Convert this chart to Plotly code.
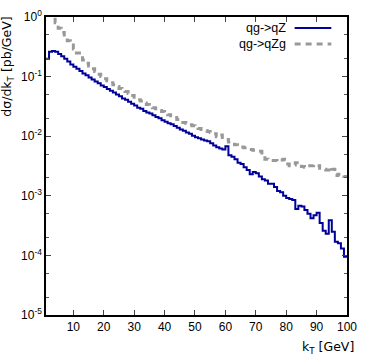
import numpy as np
import plotly.graph_objects as go

# bin left edges in kT (GeV), bin width 1
kt_edges = np.arange(1, 101)

# qg->qZ (solid blue histogram)
qz = [0.20, 0.26, 0.27, 0.26, 0.24, 0.22, 0.20, 0.18, 0.16, 0.147,
      0.135, 0.124, 0.113, 0.105, 0.097, 0.089, 0.083, 0.077, 0.071, 0.067,
      0.062, 0.058, 0.054, 0.050, 0.047, 0.043, 0.041, 0.038, 0.035, 0.0326,
      0.030, 0.029, 0.0265, 0.025, 0.024, 0.0225, 0.021, 0.020, 0.0185, 0.0175,
      0.0165, 0.0158, 0.0148, 0.0138, 0.013, 0.0123, 0.0115, 0.011, 0.0102, 0.0096,
      0.0092, 0.0088, 0.0085, 0.0082, 0.0076, 0.0070, 0.0065, 0.0062, 0.0060, 0.0068,
      0.0048, 0.0045, 0.0041, 0.0036, 0.0034, 0.0030, 0.0027, 0.0023, 0.0025, 0.0024,
      0.0021, 0.0019, 0.0018, 0.0016, 0.0016, 0.0014, 0.0012, 0.00115, 0.0010, 0.00092,
      0.00088, 0.00085, 0.00060, 0.00068, 0.00066, 0.00058, 0.00050, 0.00042, 0.00047, 0.00052,
      0.00035, 0.00026, 0.00023, 0.00039, 0.00025, 0.00017, 0.00016, 0.00013, 0.000095]

# qg->qZg (dashed grey histogram)
qzg = [1.6, 1.2, 1.0, 0.8, 0.65, 0.55, 0.46, 0.40, 0.34, 0.29,
       0.25, 0.22, 0.19, 0.168, 0.15, 0.135, 0.122, 0.11, 0.10, 0.092,
       0.085, 0.079, 0.073, 0.068, 0.063, 0.059, 0.056, 0.052, 0.048, 0.045,
       0.041, 0.039, 0.036, 0.034, 0.032, 0.030, 0.029, 0.027, 0.026, 0.024,
       0.023, 0.022, 0.0205, 0.019, 0.0185, 0.017, 0.0165, 0.0155, 0.015, 0.014,
       0.0135, 0.013, 0.0125, 0.012, 0.0115, 0.011, 0.0098, 0.0105, 0.0095, 0.0088,
       0.0080, 0.0078, 0.0072, 0.0068, 0.0066, 0.0064, 0.0062, 0.0060, 0.0058, 0.0057,
       0.0056, 0.0046, 0.0041, 0.0040, 0.0039, 0.0039, 0.0038, 0.0040, 0.0041, 0.0034,
       0.0032, 0.0033, 0.0036, 0.0036, 0.0031, 0.0030, 0.0032, 0.0032, 0.0033, 0.0032,
       0.0029, 0.0028, 0.0027, 0.0030, 0.0028, 0.0022, 0.0023, 0.0022, 0.0021]

x_ticks = [10, 20, 30, 40, 50, 60, 70, 80, 90, 100]
y_ticks = [1e-5, 1e-4, 1e-3, 1e-2, 1e-1, 1]
y_labels = ["10<sup>-5</sup>", "10<sup>-4</sup>", "10<sup>-3</sup>",
            "10<sup>-2</sup>", "10<sup>-1</sup>", "10<sup>0</sup>"]

BLUE = "#00009a"
GREY = "#999999"
FONT = "Liberation Sans, Arial, sans-serif"
WIDE = "DejaVu Sans, sans-serif"

fig = go.Figure()
fig.add_trace(go.Scatter(x=kt_edges, y=qz + [qz[-1]], mode="lines",
                         line=dict(color=BLUE, width=2, shape="hv"),
                         showlegend=False))
fig.add_trace(go.Scatter(x=kt_edges, y=qzg + [qzg[-1]], mode="lines",
                         line=dict(color=GREY, width=3, shape="hv", dash="6px,5px"),
                         showlegend=False))

# gnuplot style key: text right-aligned, sample line on the right
legend_rows = [("qg->qZ", BLUE, "solid", 2, 0.963), ("qg->qZg", GREY, "6px,5px", 3, 0.909)]
for label, col, dash, w, yy in legend_rows:
    fig.add_annotation(x=0.804, y=yy, xref="paper", yref="paper", text=label,
                       showarrow=False, xanchor="right", yanchor="middle",
                       font=dict(size=12.5, color="black", family=FONT))
    fig.add_shape(type="line", xref="paper", yref="paper", x0=0.826, x1=0.948,
                  y0=yy, y1=yy, line=dict(color=col, width=w, dash=dash))

fig.add_annotation(x=-0.126, y=1.008, xref="paper", yref="paper",
                   text="dσ/dk<sub>T</sub> [pb/GeV]", textangle=-90,
                   showarrow=False, xanchor="center", yanchor="top",
                   font=dict(size=12.5, color="black", family=WIDE))
fig.add_annotation(x=1.03, y=-0.075, xref="paper", yref="paper",
                   text="k<sub>T</sub> [GeV]", showarrow=False,
                   xanchor="right", yanchor="top",
                   font=dict(size=12.5, color="black", family=WIDE))

fig.update_layout(
    width=365, height=356,
    margin=dict(l=46, r=13, t=8, b=41),
    paper_bgcolor="white", plot_bgcolor="white",
    font=dict(family=FONT, size=12, color="black"),
)
fig.update_xaxes(range=[1, 100], tickvals=x_ticks, ticks="inside", ticklen=5,
                 showline=True, linecolor="black", linewidth=1.5, mirror="allticks",
                 showgrid=False, zeroline=False, tickfont=dict(size=12))
fig.update_yaxes(type="log", range=[-5, 0], tickvals=y_ticks, ticktext=y_labels,
                 ticks="inside", ticklen=5, showline=True, linecolor="black",
                 linewidth=1.5, mirror="allticks", showgrid=False, zeroline=False,
                 tickfont=dict(size=12),
                 minor=dict(ticks="inside", ticklen=3, showgrid=False,
                            tickcolor="#555555"))

fig.write_html("out.html", config={"displayModeBar": False},
               post_script="document.body.style.margin='0px';")
